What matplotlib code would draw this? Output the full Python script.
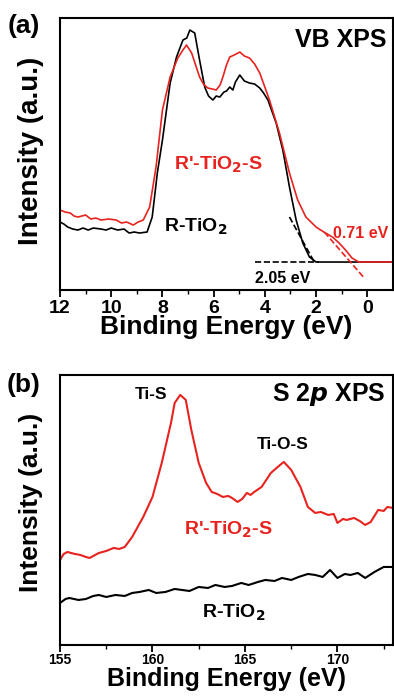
import matplotlib.pyplot as plt

plt.rcParams['font.family'] = ['Liberation Sans', 'DejaVu Sans']
plt.rcParams['font.weight'] = 'bold'
plt.rcParams['axes.labelweight'] = 'bold'

RED = '#e8231f'

# (a) VB XPS, binding energy (eV) and intensity (a.u.)
vb_r_x = [12.0, 11.85, 11.7, 11.5, 11.3, 11.1, 10.9, 10.7, 10.4, 10.2, 10.0, 9.75, 9.5, 9.3, 9.1,
          8.9, 8.6, 8.4, 8.2, 8.0, 7.7, 7.45, 7.2, 7.05,
          6.93, 6.74, 6.55, 6.35, 6.2, 6.03, 5.9, 5.76, 5.6, 5.5, 5.37, 5.25, 5.15, 4.98, 4.8,
          4.6, 4.4, 4.2, 4.05, 3.88,
          3.56, 3.3, 3.04, 2.78, 2.52, 2.26, 2.0, 1.5, 1.0, 0.5, 0.0, -1.0]
vb_r_y = [68, 66, 63, 61, 60, 62, 60, 62, 61, 60, 62, 60, 61, 57, 58,
          57, 58, 73, 117, 150, 207, 233, 250, 252,
          260, 257, 230, 203, 194, 190, 194, 193, 198, 199, 203, 200, 208, 215, 209,
          207, 206, 202, 197, 190,
          167, 140, 103, 70, 47, 33, 28, 28, 28, 28, 28, 28]

vb_s_x = [12.0, 11.8, 11.6, 11.45, 11.3, 11.0, 10.8, 10.6, 10.4, 10.1, 9.8, 9.6, 9.4, 9.14, 8.95,
          8.75, 8.5, 8.25, 8.0, 7.7, 7.4, 7.2, 7.06,
          6.86, 6.55, 6.4, 6.23, 6.05, 5.9, 5.75, 5.64, 5.5, 5.37, 5.2, 4.98, 4.8, 4.6, 4.4,
          4.2, 3.82, 3.43, 3.04, 2.72, 2.4,
          2.0, 1.7, 1.36, 1.1, 0.85, 0.6, 0.33, 0.0, -1.0]
vb_s_y = [80, 78, 77, 74, 73, 75, 71, 72, 70, 71, 70, 67, 68, 65, 68,
          70, 83, 123, 180, 213, 232, 240, 245,
          237, 213, 206, 202, 201, 200, 205, 213, 225, 233, 235, 238, 234, 232, 226,
          217, 190, 157, 117, 90, 73,
          63, 58, 53, 47, 40, 32, 28, 28, 28]

# linear-extrapolation guides and baseline
tan_r_x = [3.04, 2.05]
tan_r_y = [73, 27]
tan_s_x = [1.68, 0.12]
tan_s_y = [58, 12]
base_x = [4.4, 1.9]
base_y = [28, 28]

# (b) S 2p XPS
s2p_s_x = [155.0, 155.2, 155.4, 155.8, 156.1, 156.4, 156.6, 156.9, 157.1, 157.5, 157.9, 158.2,
           158.5, 158.9, 159.5, 160.0, 160.5, 161.0,
           161.2, 161.5, 161.8, 162.1, 162.5, 162.9, 163.2, 163.5, 163.8, 164.1, 164.3, 164.6,
           164.85, 165.1, 165.3, 165.5,
           165.9, 166.4, 166.9, 167.1, 167.5, 168.0, 168.4, 168.8, 169.1, 169.5, 169.8, 170.0,
           170.3, 170.5, 170.9,
           171.2, 171.5, 171.8, 172.2, 172.5, 172.7, 173.0]
s2p_s_y = [85, 91, 93, 91, 90, 88, 87, 90, 92, 94, 97, 96,
           98, 108, 128, 148, 182, 222,
           242, 250, 245, 215, 182, 162, 153, 151, 148, 149, 147, 143,
           146, 152, 150, 153,
           158, 172, 180, 183, 175, 158, 138, 132, 133, 130, 131, 122,
           126, 125, 127,
           124, 120, 123, 135, 134, 138, 137]

s2p_r_x = [155.0, 155.3, 155.5, 156.0, 156.4, 156.8, 157.1, 157.5, 158.0, 158.5, 158.9, 159.3,
           159.8, 160.2, 160.7, 161.2, 161.6, 162.0, 162.5, 163.0, 163.4, 163.9, 164.3, 164.8,
           165.2, 165.7, 166.1, 166.6, 167.0, 167.5, 167.9, 168.4, 168.8, 169.2, 169.6, 170.0,
           170.4, 170.7, 171.1, 171.5, 172.0, 172.5, 173.0]
s2p_r_y = [42, 46, 47, 45, 46, 49, 50, 48, 50, 49, 52, 53,
           55, 52, 53, 56, 55, 54, 58, 57, 60, 58, 59, 62,
           60, 63, 65, 64, 67, 65, 68, 71, 70, 68, 75, 67,
           71, 70, 72, 67, 73, 78, 78]

fig = plt.figure(figsize=(3.94, 6.96), dpi=100)

ax1 = fig.add_axes([0.1523, 0.5833, 0.845, 0.3908])
ax1.plot(vb_r_x, vb_r_y, color='black', lw=1.2)
ax1.plot(vb_s_x, vb_s_y, color=RED, lw=1.2)
ax1.plot(tan_r_x, tan_r_y, color='black', lw=1.2, ls='--')
ax1.plot(tan_s_x, tan_s_y, color=RED, lw=1.2, ls='--')
ax1.plot(base_x, base_y, color='black', lw=1.2, ls='--')
ax1.set_xlim(12, -1)
ax1.set_ylim(0, 272)
ax1.set_xticks([12, 10, 8, 6, 4, 2, 0])
ax1.set_xticks([11, 9, 7, 5, 3, 1], minor=True)
ax1.set_yticks([])
ax1.tick_params(axis='x', labelsize=14, length=5, width=1.3, pad=2)
ax1.tick_params(axis='x', which='minor', length=3, width=1.0)
ax1.text(-0.74, 250, 'VB XPS', fontsize=18, ha='right', va='center')
ax1.text(5.8, 125, "R'-TiO$_\\mathbf{2}$-S", color=RED, fontsize=14, ha='center', va='center')
ax1.text(6.7, 63, 'R-TiO$_\\mathbf{2}$', color='black', fontsize=14, ha='center', va='center')
ax1.text(0.27, 57, '0.71 eV', color=RED, fontsize=11.5, ha='center', va='center')
ax1.text(3.3, 12, '2.05 eV', color='black', fontsize=11.5, ha='center', va='center')
ax1.set_xlabel('Binding Energy (eV)', fontsize=19, labelpad=-1)

ax2 = fig.add_axes([0.1523, 0.0733, 0.845, 0.388])
ax2.plot(s2p_r_x, s2p_r_y, color='black', lw=1.5)
ax2.plot(s2p_s_x, s2p_s_y, color=RED, lw=1.5)
ax2.set_xlim(155, 173)
ax2.set_ylim(0, 270)
ax2.set_xticks([155, 160, 165, 170])
ax2.set_xticks([157.5, 162.5, 167.5, 172.5], minor=True)
ax2.set_yticks([])
ax2.tick_params(axis='x', labelsize=10, length=5, width=1.3, pad=1)
ax2.tick_params(axis='x', which='minor', length=3, width=1.0)
ax2.text(159.93, 250, 'Ti-S', fontsize=12.5, ha='center', va='center')
ax2.text(167.05, 200, 'Ti-O-S', fontsize=12.5, ha='center', va='center')
ax2.text(172.57, 250, 'S 2$\\boldsymbol{p}$ XPS', fontsize=18, ha='right', va='center')
ax2.text(164.1, 115, "R'-TiO$_\\mathbf{2}$-S", color=RED, fontsize=14, ha='center', va='center')
ax2.text(164.4, 32, 'R-TiO$_\\mathbf{2}$', color='black', fontsize=14, ha='center', va='center')
ax2.set_xlabel('Binding Energy (eV)', fontsize=18, labelpad=0)

for ax in (ax1, ax2):
    for s in ax.spines.values():
        s.set_linewidth(1.5)

fig.text(24 / 394, 1 - 26 / 696, '(a)', fontsize=19, ha='center', va='center')
fig.text(24 / 394, 1 - 385 / 696, '(b)', fontsize=19, ha='center', va='center')
fig.text(31 / 394, 1 - 151 / 696, 'Intensity (a.u.)', fontsize=20, rotation=90, ha='center', va='center')
fig.text(31 / 394, 1 - 502 / 696, 'Intensity (a.u.)', fontsize=19, rotation=90, ha='center', va='center')

fig.savefig('out.png', dpi=100)
